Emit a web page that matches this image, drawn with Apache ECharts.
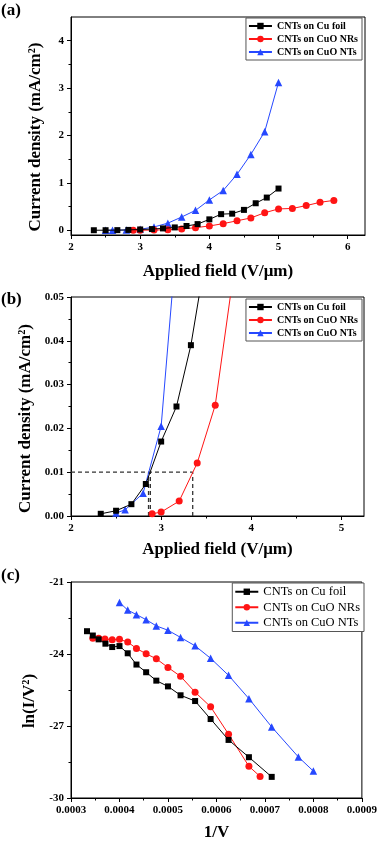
<!DOCTYPE html>
<html><head><meta charset="utf-8">
<script src="https://cdn.jsdelivr.net/npm/echarts@6/dist/echarts.min.js"></script>
<style>html,body{margin:0;padding:0;background:#fff}#c{width:380px;height:842px}</style>
</head><body><div id="c"></div>
<script>
// ---- Data ----
const seriesNames = ['CNTs on Cu foil', 'CNTs on CuO NRs', 'CNTs on CuO NTs'];
// Panels (a) and (b): J-E
const fieldCuFoil = [2.33, 2.5, 2.67, 2.83, 3.0, 3.17, 3.33, 3.5, 3.67, 3.83, 4.0, 4.17, 4.33, 4.5, 4.67, 4.83, 5.0];
const jCuFoil     = [0.0005, 0.0012, 0.0027, 0.0073, 0.017, 0.025, 0.039, 0.06, 0.09, 0.13, 0.23, 0.34, 0.35, 0.43, 0.57, 0.69, 0.88];
const fieldNRs = [2.9, 3.0, 3.2, 3.4, 3.6, 3.8, 4.0, 4.2, 4.4, 4.6, 4.8, 5.0, 5.2, 5.4, 5.6, 5.8];
const jNRs     = [0.0005, 0.0009, 0.0034, 0.0121, 0.0253, 0.055, 0.09, 0.14, 0.2, 0.26, 0.37, 0.45, 0.46, 0.52, 0.59, 0.63];
const fieldNTs = [2.5, 2.6, 2.8, 3.0, 3.2, 3.4, 3.6, 3.8, 4.0, 4.2, 4.4, 4.6, 4.8, 5.0];
const jNTs     = [0.0007, 0.0014, 0.0052, 0.0205, 0.07, 0.15, 0.28, 0.42, 0.64, 0.84, 1.18, 1.6, 2.08, 3.12];
// Panel (b) turn-on guide lines
const turnOnJ = 0.01;
const turnOnFields = [2.86, 2.88, 3.35];
// Panel (c): F-N plot
const invVCuFoil = [0.000333, 0.000345, 0.000357, 0.000371, 0.000385, 0.0004, 0.000417, 0.000435, 0.000455, 0.000476, 0.0005, 0.000526, 0.000556, 0.000588, 0.000625, 0.000667, 0.000714];
const lnCuFoil   = [-23.05, -23.23, -23.39, -23.57, -23.71, -23.67, -23.97, -24.44, -24.76, -25.11, -25.35, -25.72, -25.96, -26.71, -27.58, -28.3, -29.12];
const invVNRs = [0.000345, 0.000357, 0.00037, 0.000385, 0.0004, 0.000417, 0.000435, 0.000455, 0.000476, 0.0005, 0.000526, 0.000556, 0.000588, 0.000625, 0.000667, 0.00069];
const lnNRs   = [-23.34, -23.34, -23.37, -23.41, -23.39, -23.5, -23.77, -23.99, -24.2, -24.56, -24.93, -25.59, -26.2, -27.34, -28.68, -29.1];
const invVNTs = [0.0004, 0.000417, 0.000435, 0.000455, 0.000476, 0.0005, 0.000526, 0.000556, 0.000588, 0.000625, 0.000667, 0.000714, 0.000769, 0.0008];
const lnNTs   = [-21.85, -22.17, -22.36, -22.57, -22.83, -23.01, -23.31, -23.66, -24.18, -24.89, -25.86, -27.04, -28.29, -28.88];
// Tick values
const aXTicks = [2, 3, 4, 5, 6], aXMinor = [2.5, 3.5, 4.5, 5.5];
const aYTicks = [0, 1, 2, 3, 4], aYMinor = [0.5, 1.5, 2.5, 3.5];
const bXTicks = [2, 3, 4, 5], bXMinor = [2.5, 3.5, 4.5];
const bYTicks = [0, 0.01, 0.02, 0.03, 0.04, 0.05], bYMinor = [0.005, 0.015, 0.025, 0.035, 0.045];
const cXTicks = [0.0003, 0.0004, 0.0005, 0.0006, 0.0007, 0.0008, 0.0009], cXMinor = [0.00035, 0.00045, 0.00055, 0.00065, 0.00075, 0.00085];
const cYTicks = [-30, -27, -24, -21], cYMinor = [-28.5, -25.5, -22.5];

// ---- Styles ----
const SERIF = '"Liberation Serif", "Times New Roman", serif';
const colors = ['#000000', '#ff1414', '#2648ff'];
const symbols = ['rect', 'circle', 'triangle'];
const symSizes = [6, 7, 7.5];
const pair = (xs, ys) => xs.map((x, i) => [x, ys[i]]);

const grids = [
  {left: 71, top: 17, right: 15, height: 218},
  {left: 71, top: 297, right: 16, height: 219},
  {left: 71, top: 582, right: 16, height: 219}
].map(g => Object.assign(g, {show: true, borderColor: '#000', borderWidth: 1, backgroundColor: 'transparent'}));

const xAxes = [], yAxes = [];
function addAxes(list, gi, type, min, max, ticks, minor, fmt, name, nameGap, namePad) {
  const isY = type === 'y';
  list.push({
    type: 'value', gridIndex: gi, min, max, position: isY ? 'left' : 'bottom',
    splitLine: {show: false},
    axisLine: {show: true, onZero: false, lineStyle: {color: '#000', width: 1}},
    axisTick: {show: true, inside: false, length: 4, customValues: ticks, lineStyle: {color: '#000'}},
    axisLabel: {show: true, customValues: ticks, formatter: fmt, margin: 7,
      fontFamily: SERIF, fontWeight: 'bold', fontSize: 11, color: '#000'},
    name, nameLocation: 'middle', nameGap,
    nameTextStyle: {fontFamily: SERIF, fontWeight: 'bold', fontSize: 17, color: '#000', padding: namePad || 0}
  });
  list.push({
    type: 'value', gridIndex: gi, min, max, position: isY ? 'left' : 'bottom',
    splitLine: {show: false},
    axisLine: {show: false, onZero: false},
    axisTick: {show: true, inside: false, length: 2.5, customValues: minor, lineStyle: {color: '#000'}},
    axisLabel: {show: false}
  });
}
const intFmt = v => String(Math.round(v));
addAxes(xAxes, 0, 'x', 2, 6.25, aXTicks, aXMinor, intFmt, 'Applied field (V/μm)', 28);
addAxes(yAxes, 0, 'y', -0.1, 4.5, aYTicks, aYMinor, intFmt, 'Current density (mA/cm²)', 27, [0, 22, 0, 0]);
addAxes(xAxes, 1, 'x', 2, 5.25, bXTicks, bXMinor, intFmt, 'Applied field (V/μm)', 25);
addAxes(yAxes, 1, 'y', 0, 0.05, bYTicks, bYMinor, v => v.toFixed(2), 'Current density (mA/cm²)', 36, [0, 24, 0, 0]);
addAxes(xAxes, 2, 'x', 0.0003, 0.0009, cXTicks, cXMinor, v => v.toFixed(4), '1/V', 26);
addAxes(yAxes, 2, 'y', -30, -21, cYTicks, cYMinor, intFmt, 'ln(I/V²)', 22, [0, 22, 0, 0]);

const series = [];
const jeData = [pair(fieldCuFoil, jCuFoil), pair(fieldNRs, jNRs), pair(fieldNTs, jNTs)];
const fnData = [pair(invVCuFoil, lnCuFoil), pair(invVNRs, lnNRs), pair(invVNTs, lnNTs)];
[jeData, jeData, fnData].forEach((set, gi) => {
  set.forEach((d, k) => {
    series.push({
      type: 'line', name: seriesNames[k], xAxisIndex: gi * 2, yAxisIndex: gi * 2, data: d,
      symbol: symbols[k], symbolSize: symSizes[k], showAllSymbol: true, clip: true, animation: false,
      itemStyle: {color: colors[k]}, lineStyle: {color: colors[k], width: 1}, z: 3 + (2 - k)
    });
  });
});
// Turn-on guide lines in (b)
series.push({
  type: 'line', name: 'guide-h', xAxisIndex: 2, yAxisIndex: 2, symbol: 'none', silent: true, animation: false,
  data: [[2, turnOnJ], [Math.max(...turnOnFields), turnOnJ]],
  lineStyle: {color: '#333', width: 1.3, type: [4, 3]}, z: 2
});
turnOnFields.forEach(f => series.push({
  type: 'line', name: 'guide-v', xAxisIndex: 2, yAxisIndex: 2, symbol: 'none', silent: true, animation: false,
  data: [[f, 0], [f, turnOnJ]],
  lineStyle: {color: '#333', width: 1.3, type: [4, 3]}, z: 2
}));

const legendBase = {
  data: seriesNames, orient: 'vertical', itemWidth: 23, itemHeight: 8, itemGap: 1,
  borderColor: '#555', borderWidth: 1, backgroundColor: '#fff', selectedMode: false
};
const legends = [
  Object.assign({}, legendBase, {right: 18, top: 18, padding: [2, 4, 2, 2],
    textStyle: {fontFamily: SERIF, fontWeight: 'bold', fontSize: 10, color: '#000', lineHeight: 12}}),
  Object.assign({}, legendBase, {right: 18, top: 299, padding: [2, 4, 2, 2],
    textStyle: {fontFamily: SERIF, fontWeight: 'bold', fontSize: 10, color: '#000', lineHeight: 12}}),
  Object.assign({}, legendBase, {right: 16, top: 583, itemGap: 2, padding: [2, 4, 2, 2],
    textStyle: {fontFamily: SERIF, fontWeight: 'normal', fontSize: 12.5, color: '#000', lineHeight: 13.5}})
];

const chart = echarts.init(document.getElementById('c'), null, {renderer: 'canvas'});
chart.setOption({
  animation: false,
  backgroundColor: '#fff',
  grid: grids,
  xAxis: xAxes,
  yAxis: yAxes,
  legend: legends,
  series,
  graphic: [
    {type: 'text', left: 1, top: 2, style: {text: '(a)', font: 'bold 17px ' + SERIF, fill: '#000'}},
    {type: 'text', left: 1, top: 291, style: {text: '(b)', font: 'bold 17px ' + SERIF, fill: '#000'}},
    {type: 'text', left: 1, top: 567, style: {text: '(c)', font: 'bold 17px ' + SERIF, fill: '#000'}}
  ]
});
</script></body></html>
